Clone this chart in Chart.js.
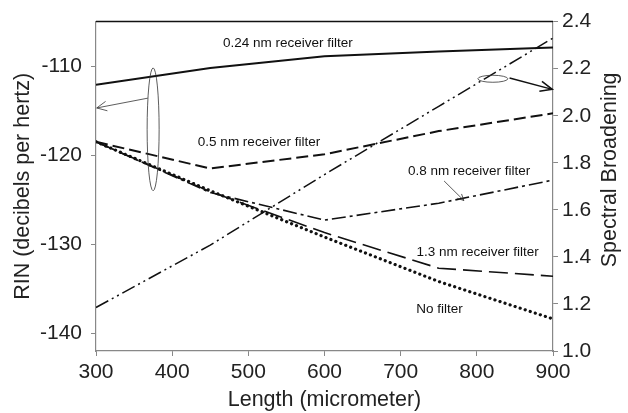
<!DOCTYPE html>
<html>
<head>
<meta charset="utf-8">
<script src="https://cdn.jsdelivr.net/npm/chart.js@4/dist/chart.umd.min.js"></script>
<style>
  html, body { margin: 0; padding: 0; background: #fff; }
  #wrap { width: 628px; height: 413px; }
</style>
</head>
<body>
<div id="wrap"><canvas id="myChart" width="628" height="413"></canvas></div>
<script>
// lengths in micrometer
const lengths = [300, 450, 600, 750, 900];
// RIN (dB/Hz) for each receiver filter
const rin024 = [-112.1, -110.2, -108.9, -108.35, -107.9];
const rin05 = [-118.5, -121.5, -119.9, -117.3, -115.3];
const rin08 = [-118.5, -124.2, -127.3, -125.4, -122.8];
const rin13 = [-118.5, -124.1, -128.7, -132.7, -133.6];
const rinNoFilter = [-118.5, -124.0, -129.2, -134.2, -138.4];
// spectral broadening (right axis)
const broadening = [1.185, 1.45, 1.75, 2.04, 2.33];

const xTicks = [300, 400, 500, 600, 700, 800, 900];
const rinTicks = [-140, -130, -120, -110];
const broadTicks = [1.0, 1.2, 1.4, 1.6, 1.8, 2.0, 2.2, 2.4];

// curve labels, placed in data coords (x, rin)
const curveLabels = [
    { text: '0.24 nm receiver filter', x: 552, y: -107.4 },
    { text: '0.5 nm receiver filter', x: 514, y: -118.5 },
    { text: '0.8 nm receiver filter', x: 790, y: -121.8 },
    { text: '1.3 nm receiver filter', x: 801, y: -130.9 },
    { text: 'No filter', x: 751, y: -137.3 }
];

const FONT = "'Liberation Sans', Arial, sans-serif";
const TICK_SIZE = 21;
const TITLE_SIZE = 21.5;
const ctx = document.getElementById('myChart').getContext('2d');

function toPoints(ys) {
    return lengths.map((x, i) => ({ x: x, y: ys[i] }));
}

function arrowHead(c, x1, y1, x2, y2, len, spread) {
    let a = Math.atan2(y2 - y1, x2 - x1);
    c.beginPath();
    c.moveTo(x2 - len * Math.cos(a - spread), y2 - len * Math.sin(a - spread));
    c.lineTo(x2, y2);
    c.lineTo(x2 - len * Math.cos(a + spread), y2 - len * Math.sin(a + spread));
    c.stroke();
}

const annotations = {
    id: 'annotations',
    afterDraw(chart) {
        const c = chart.ctx;
        const xs = chart.scales.x, yl = chart.scales.y, yr = chart.scales.y2;
        const area = chart.chartArea;
        c.save();
        // top border
        c.strokeStyle = '#111';
        c.lineWidth = 1.5;
        c.beginPath();
        c.moveTo(area.left, area.top);
        c.lineTo(area.right, area.top);
        c.stroke();

        // right axis title, reads bottom to top
        c.save();
        c.translate(610, yr.getPixelForValue(1.77));
        c.rotate(-Math.PI / 2);
        c.fillStyle = '#222';
        c.font = TITLE_SIZE + 'px ' + FONT;
        c.textAlign = 'center';
        c.textBaseline = 'middle';
        c.fillText('Spectral Broadening', 0, 0);
        c.restore();

        // curve labels
        c.fillStyle = '#111';
        c.font = '13.5px ' + FONT;
        c.textAlign = 'center';
        c.textBaseline = 'middle';
        curveLabels.forEach(l => {
            c.fillText(l.text, xs.getPixelForValue(l.x), yl.getPixelForValue(l.y));
        });

        c.strokeStyle = '#333';
        c.lineWidth = 0.8;
        // left ellipse + arrow to RIN axis
        let ex = xs.getPixelForValue(375);
        let eyTop = yl.getPixelForValue(-110.2), eyBot = yl.getPixelForValue(-124.0);
        c.beginPath();
        c.ellipse(ex, (eyTop + eyBot) / 2, 6, (eyBot - eyTop) / 2, 0, 0, Math.PI * 2);
        c.stroke();
        let ax1 = xs.getPixelForValue(368), ay1 = yl.getPixelForValue(-113.6);
        let ax2 = xs.getPixelForValue(301), ay2 = yl.getPixelForValue(-114.7);
        c.beginPath();
        c.moveTo(ax1, ay1);
        c.lineTo(ax2, ay2);
        c.stroke();
        arrowHead(c, ax1, ay1, ax2, ay2, 11, 0.45);

        // right ellipse + arrow to broadening axis
        let rx = xs.getPixelForValue(821), ry = yr.getPixelForValue(2.157);
        c.beginPath();
        c.ellipse(rx, ry, 15, 3.5, 0, 0, Math.PI * 2);
        c.stroke();
        let bx1 = xs.getPixelForValue(843), by1 = yr.getPixelForValue(2.16);
        let bx2 = xs.getPixelForValue(899), by2 = yr.getPixelForValue(2.112);
        c.lineWidth = 1.5;
        c.strokeStyle = '#111';
        c.beginPath();
        c.moveTo(bx1, by1);
        c.lineTo(bx2, by2);
        c.stroke();
        arrowHead(c, bx1, by1, bx2, by2, 13, 0.4);

        // small arrow from 0.8 label to its curve
        c.lineWidth = 0.8;
        c.strokeStyle = '#333';
        let px1 = xs.getPixelForValue(757), py1 = yl.getPixelForValue(-122.9);
        let px2 = xs.getPixelForValue(783), py2 = yl.getPixelForValue(-125.1);
        c.beginPath();
        c.moveTo(px1, py1);
        c.lineTo(px2, py2);
        c.stroke();
        arrowHead(c, px1, py1, px2, py2, 7, 0.45);
        c.restore();
    }
};

function lineSet(label, data, dash, width, axis) {
    return {
        label: label,
        data: toPoints(data),
        yAxisID: axis || 'y',
        borderColor: '#111',
        backgroundColor: '#111',
        borderWidth: width,
        borderDash: dash,
        pointRadius: 0,
        tension: 0,
        fill: false
    };
}

const noFilterSet = lineSet('No filter', rinNoFilter, [0.1, 5.2], 3.2);
noFilterSet.borderCapStyle = 'round';

new Chart(ctx, {
    type: 'line',
    data: {
        datasets: [
            lineSet('0.24 nm receiver filter', rin024, [], 2),
            lineSet('0.5 nm receiver filter', rin05, [12, 5], 2),
            lineSet('0.8 nm receiver filter', rin08, [14, 4, 3, 4], 1.6),
            lineSet('1.3 nm receiver filter', rin13, [19, 7], 1.6),
            noFilterSet,
            lineSet('Spectral broadening', broadening, [14, 4, 2, 4, 2, 4], 1.5, 'y2')
        ]
    },
    options: {
        responsive: false,
        animation: false,
        layout: { padding: { top: 20, right: 0, left: 0, bottom: 0 } },
        plugins: { legend: { display: false }, tooltip: { enabled: false } },
        scales: {
            x: {
                type: 'linear',
                min: 300,
                max: 900,
                afterBuildTicks: s => { s.ticks = xTicks.map(v => ({ value: v })); },
                afterFit: s => { s.height = 62; },
                grid: { drawOnChartArea: false, drawTicks: true, tickLength: 5, color: '#888' },
                border: { color: '#888', width: 1.2 },
                ticks: { color: '#222', font: { family: FONT, size: TICK_SIZE }, padding: 4, maxRotation: 0 },
                title: { display: true, text: 'Length (micrometer)', color: '#222', font: { family: FONT, size: TITLE_SIZE }, padding: { top: 0, bottom: 0 } }
            },
            y: {
                position: 'left',
                min: -142,
                max: -105,
                afterBuildTicks: s => { s.ticks = rinTicks.map(v => ({ value: v })); },
                afterFit: s => { s.width = 96; },
                grid: { drawOnChartArea: false, drawTicks: true, tickLength: 5, color: '#888' },
                border: { color: '#888', width: 1.2 },
                ticks: { color: '#222', font: { family: FONT, size: TICK_SIZE }, padding: 9 },
                title: { display: true, text: 'RIN (decibels per hertz)', color: '#222', font: { family: FONT, size: TITLE_SIZE }, padding: { top: 10, bottom: 0 } }
            },
            y2: {
                position: 'right',
                min: 1.0,
                max: 2.4,
                afterBuildTicks: s => { s.ticks = broadTicks.map(v => ({ value: v })); },
                afterFit: s => { s.width = 75; },
                grid: { drawOnChartArea: false, drawTicks: true, tickLength: 5, color: '#888' },
                border: { color: '#888', width: 1.2 },
                ticks: { color: '#222', font: { family: FONT, size: TICK_SIZE }, padding: 4, callback: v => v.toFixed(1) },
                title: { display: false }
            }
        }
    },
    plugins: [annotations]
});
</script>
</body>
</html>
